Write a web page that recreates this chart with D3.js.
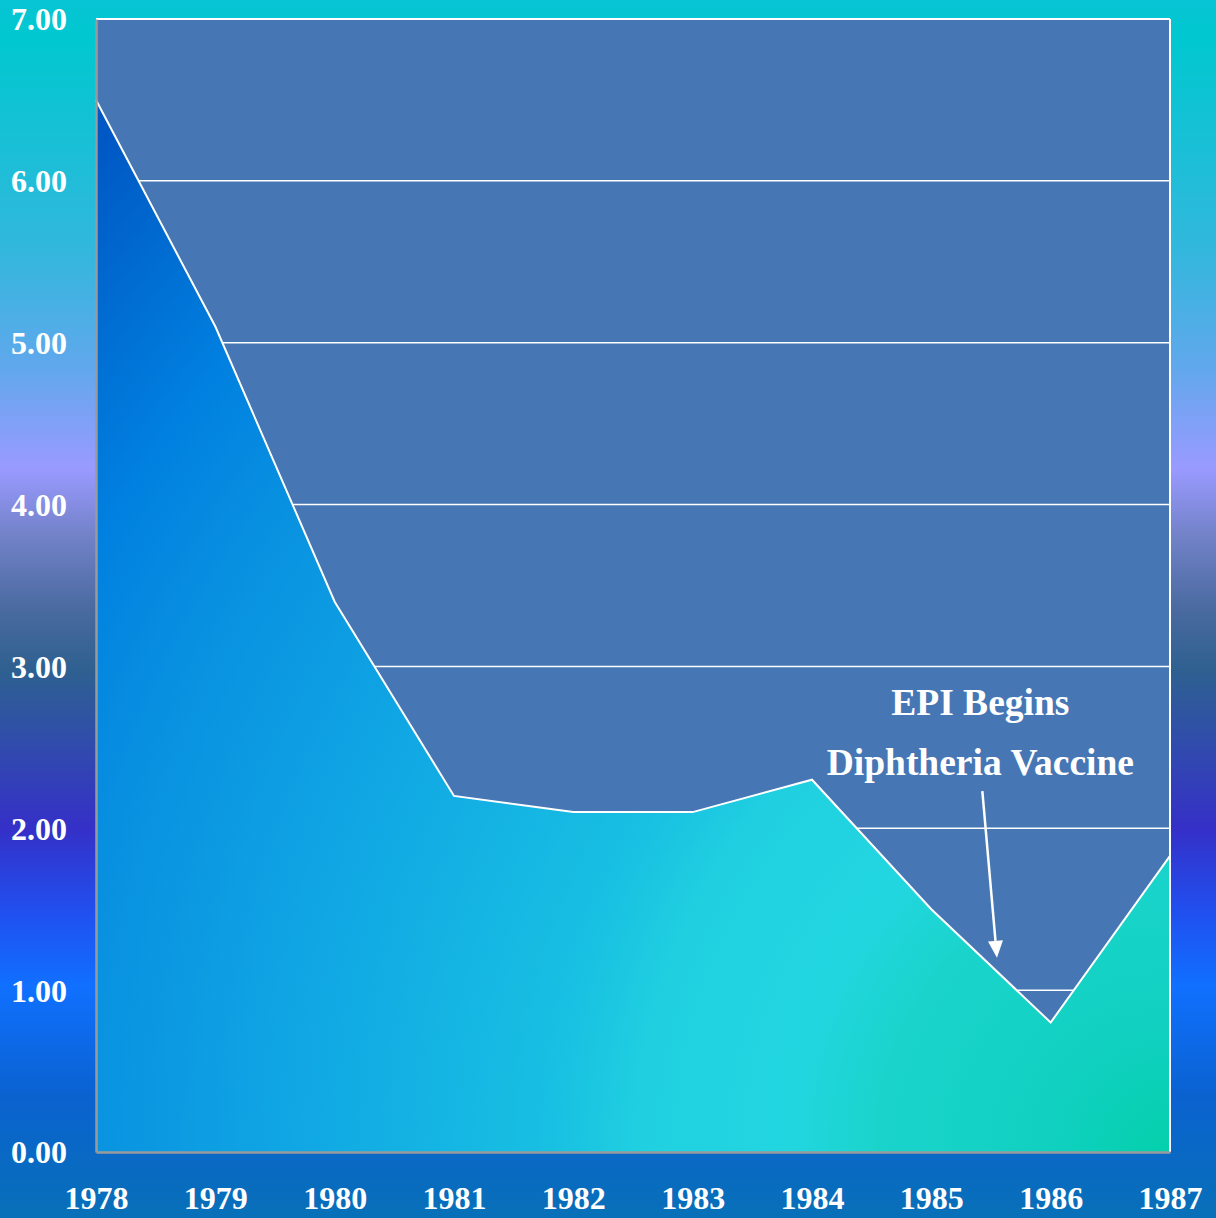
<!DOCTYPE html>
<html><head><meta charset="utf-8">
<script src="https://cdn.jsdelivr.net/npm/d3@7"></script>
<style>html,body{margin:0;padding:0;overflow:hidden;}svg{display:block;}</style>
</head><body>
<svg id="chart" width="1216" height="1218"></svg>
<script>
const years = ["1978","1979","1980","1981","1982","1983","1984","1985","1986","1987"];
const values = [6.5, 5.1, 3.4, 2.2, 2.1, 2.1, 2.3, 1.5, 0.8, 1.83];
const yTicks = [0,1,2,3,4,5,6,7];
const annotationLines = ["EPI Begins", "Diphtheria Vaccine"];
const annotationYear = "1985";
const annotationValueFrom = 2.23;
const annotationValueTo = 1.2;
const annotationYearTo = 1985.55;

const W = 1216, H = 1218;
const m = {left: 96, right: 46, top: 19, bottom: 66};
const svg = d3.select("#chart");
const defs = svg.append("defs");

const bg = defs.append("linearGradient").attr("id","bg").attr("x1",0).attr("y1",0).attr("x2",0).attr("y2",1);
[[0,"#08c4d4"],[0.03,"#00c8d0"],[0.2,"#30b8dc"],[0.3,"#60a8ec"],[0.385,"#9a9aff"],[0.44,"#7282c8"],
 [0.5,"#4a6aa0"],[0.55,"#2e6090"],[0.6,"#3050a8"],[0.68,"#3530c8"],[0.75,"#2050f0"],[0.81,"#1070ff"],
 [0.9,"#0a62d0"],[1,"#0870b8"]].forEach(([o,c])=>bg.append("stop").attr("offset",o).attr("stop-color",c));

svg.append("rect").attr("width",W).attr("height",H).attr("fill","url(#bg)");

const x = d3.scalePoint().domain(years).range([m.left, W - m.right]);
const y = d3.scaleLinear().domain([0,7]).range([H - m.bottom, m.top]);

const ag = defs.append("radialGradient").attr("id","ag").attr("gradientUnits","userSpaceOnUse")
  .attr("cx", W - m.right).attr("cy", H - m.bottom).attr("r", 1470);
[[0,"#04d0ac"],[0.08,"#10d0c0"],[0.2,"#1ad4cc"],[0.26,"#22d6e0"],[0.36,"#20d0e0"],[0.42,"#18c0e2"],
 [0.6,"#10a6e4"],[0.75,"#0890e0"],[0.84,"#0080e0"],[1,"#0058c4"]]
 .forEach(([o,c])=>ag.append("stop").attr("offset",o).attr("stop-color",c));

svg.append("rect").attr("x",m.left).attr("y",m.top).attr("width",W-m.right-m.left).attr("height",H-m.bottom-m.top).attr("fill","#4677b4");

// gridlines
svg.append("g").selectAll("line").data(yTicks.filter(d=>d>0)).join("line")
  .attr("x1",m.left).attr("x2",W-m.right).attr("y1",d=>y(d)).attr("y2",d=>y(d))
  .attr("stroke","#ffffff").attr("stroke-width",1.5);

const data = years.map((yr,i)=>({yr, v: values[i]}));
svg.append("path").datum(data)
  .attr("d", d3.area().x(d=>x(d.yr)).y0(y(0)).y1(d=>y(d.v)))
  .attr("fill","url(#ag)");
svg.append("path").datum(data)
  .attr("d", d3.line().x(d=>x(d.yr)).y(d=>y(d.v)))
  .attr("fill","none").attr("stroke","#ffffff").attr("stroke-width",2);

// borders
svg.append("line").attr("x1",m.left).attr("x2",W-m.right).attr("y1",m.top).attr("y2",m.top).attr("stroke","#fff").attr("stroke-width",2);
svg.append("line").attr("x1",W-m.right).attr("x2",W-m.right).attr("y1",m.top).attr("y2",H-m.bottom).attr("stroke","#fff").attr("stroke-width",2);

// axes
const yAxis = svg.append("g").attr("transform",`translate(${m.left},0)`)
  .call(d3.axisLeft(y).tickValues(yTicks).tickFormat(d3.format(".2f")).tickSize(0).tickPadding(29));
const xAxis = svg.append("g").attr("transform",`translate(0,${H-m.bottom})`)
  .call(d3.axisBottom(x).tickSize(0).tickPadding(41));
[yAxis,xAxis].forEach(a=>{
  a.select(".domain").attr("stroke","#9a9a9a").attr("stroke-width",2.5);
  a.selectAll("text").attr("fill","#ffffff").style("font-family","'Liberation Serif','Times New Roman',serif")
    .style("font-weight","bold").style("font-size","32px");
});
yAxis.selectAll("text").attr("dy","0.34em");
xAxis.selectAll("text").attr("dy","0.5em");

// annotation
const ax = x(annotationYear) + 49;
svg.append("g").selectAll("text").data(annotationLines).join("text")
  .attr("x", ax).attr("y",(d,i)=>715+i*60)
  .attr("text-anchor","middle").attr("fill","#fff")
  .style("font-family","'Liberation Serif','Times New Roman',serif").style("font-weight","bold").style("font-size","37.5px")
  .text(d=>d);

const xl = d3.scaleLinear().domain([1978,1987]).range([m.left, W-m.right]);
const x0 = ax + 2, y0 = y(annotationValueFrom);
const x1 = xl(annotationYearTo), y1 = y(annotationValueTo);
const ang = Math.atan2(y1-y0, x1-x0);
const hl = 17, hw = 7.5;
const bx = x1 - hl*Math.cos(ang), by = y1 - hl*Math.sin(ang);
svg.append("line").attr("x1",x0).attr("y1",y0).attr("x2",bx).attr("y2",by).attr("stroke","#fff").attr("stroke-width",2.5);
svg.append("path").attr("d",`M${x1},${y1}L${bx + hw*Math.sin(ang)},${by - hw*Math.cos(ang)}L${bx - hw*Math.sin(ang)},${by + hw*Math.cos(ang)}Z`).attr("fill","#fff");
</script>
</body></html>
